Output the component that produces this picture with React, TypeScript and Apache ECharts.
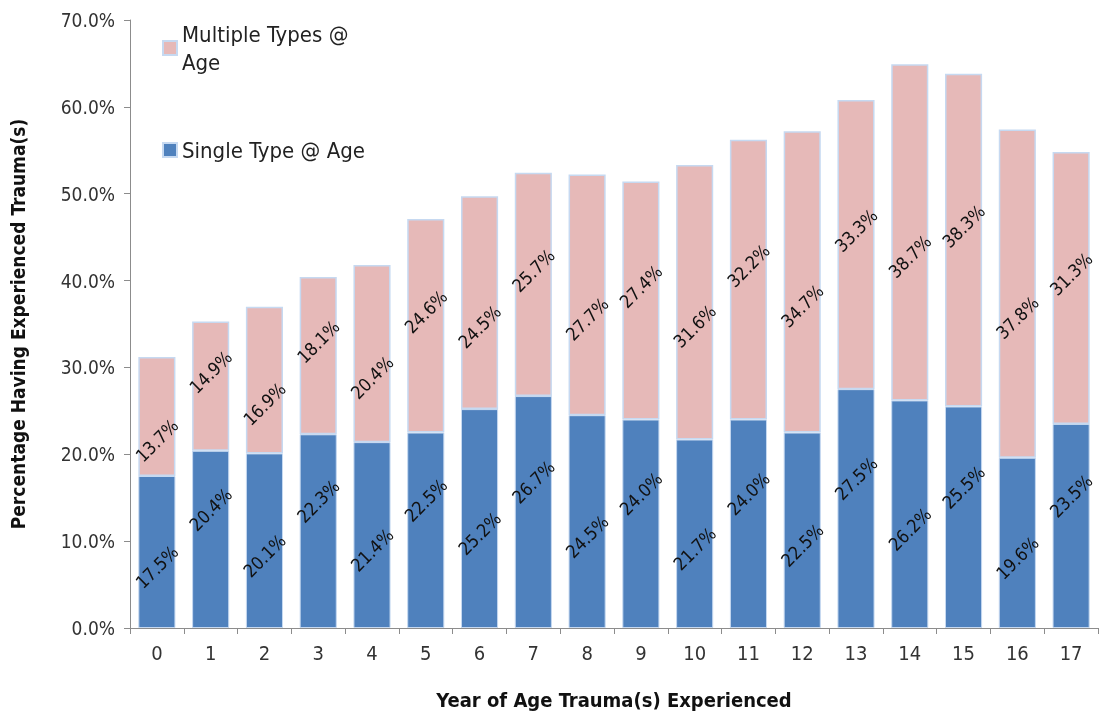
import React, { useEffect, useRef } from "react";
import * as echarts from "echarts";

const categories = ["0","1","2","3","4","5","6","7","8","9","10","11","12","13","14","15","16","17"];
const singleType = [17.5,20.4,20.1,22.3,21.4,22.5,25.2,26.7,24.5,24.0,21.7,24.0,22.5,27.5,26.2,25.5,19.6,23.5];
const multipleTypes = [13.7,14.9,16.9,18.1,20.4,24.6,24.5,25.7,27.7,27.4,31.6,32.2,34.7,33.3,38.7,38.3,37.8,31.3];
const yTicks = [0, 10, 20, 30, 40, 50, 60, 70];

const FONT = "'Liberation Sans Narrow', 'DejaVu Sans Condensed', 'Open Sans', sans-serif";

export default function App() {
  const ref = useRef<HTMLDivElement>(null);
  useEffect(() => {
    if (!ref.current) return;
    const chart = echarts.init(ref.current, null, { renderer: "svg" });
    const k = Math.SQRT1_2;
    // shift label vertically on screen by d px (offset is applied in rotated frame)
    const mkLabel = (i: number, evenOff: number, oddOff: number) => {
      const d = i % 2 === 0 ? evenOff : oddOff;
      return {
        show: true,
        position: "inside",
        rotate: 45,
        align: "center",
        verticalAlign: "middle",
        offset: [-k * d, k * d],
        color: "#111",
        fontSize: 18,
        fontFamily: FONT,
        formatter: (p: any) => Number(p.value).toFixed(1) + "%",
      };
    };
    chart.setOption({
      animation: false,
      textStyle: { fontFamily: FONT },
      grid: { left: 127, right: 4, top: 20, bottom: 77, containLabel: false },
      legend: {
        orient: "vertical",
        left: 157,
        top: 15,
        itemGap: 60,
        itemWidth: 14,
        itemHeight: 14,
        icon: "rect",
        data: ["Multiple Types @ Age", "Single Type @ Age"],
        formatter: (n: string) => (n === "Multiple Types @ Age" ? "Multiple Types @\nAge" : n),
        textStyle: { fontSize: 22, color: "#222", fontFamily: FONT, lineHeight: 28 },
      },
      xAxis: {
        type: "category",
        data: categories,
        name: "Year of Age Trauma(s) Experienced",
        nameLocation: "middle",
        nameGap: 62,
        nameTextStyle: { fontSize: 20, fontWeight: "bold", color: "#111", fontFamily: FONT },
        axisLine: { lineStyle: { color: "#8c8c8c" } },
        axisTick: { show: true, alignWithLabel: false, length: 6, lineStyle: { color: "#8c8c8c" } },
        axisLabel: { fontSize: 20, color: "#333", margin: 15, fontFamily: FONT },
      },
      yAxis: {
        type: "value",
        min: 0,
        max: 70,
        interval: 10,
        name: "Percentage Having Experienced Trauma(s)",
        nameLocation: "middle",
        nameGap: 103,
        nameTextStyle: { fontSize: 19, fontWeight: "bold", color: "#111", fontFamily: FONT },
        axisLine: { show: true, lineStyle: { color: "#8c8c8c" } },
        axisTick: { show: true, inside: false, length: 6, lineStyle: { color: "#8c8c8c" } },
        splitLine: { show: false },
        axisLabel: {
          fontSize: 19,
          color: "#333",
          margin: 15,
          fontFamily: FONT,
          formatter: (v: number) => (yTicks.includes(v) ? v.toFixed(1) + "%" : ""),
        },
      },
      series: [
        {
          name: "Single Type @ Age",
          type: "bar",
          stack: "total",
          barCategoryGap: "31%",
          itemStyle: { color: "#4F81BD", borderColor: "#C6D9F1", borderWidth: 1 },
          data: singleType.map((v, i) => ({ value: v, label: mkLabel(i, 15, -30) })),
        },
        {
          name: "Multiple Types @ Age",
          type: "bar",
          stack: "total",
          itemStyle: { color: "#E6B9B8", borderColor: "#C6D9F1", borderWidth: 1.5 },
          data: multipleTypes.map((v, i) => ({ value: v, label: mkLabel(i, 24, -14) })),
        },
      ],
    });
    return () => chart.dispose();
  }, []);
  return (
    <div
      ref={ref}
      style={{ position: "fixed", left: 0, top: 0, width: 1102, height: 715 }}
    />
  );
}
